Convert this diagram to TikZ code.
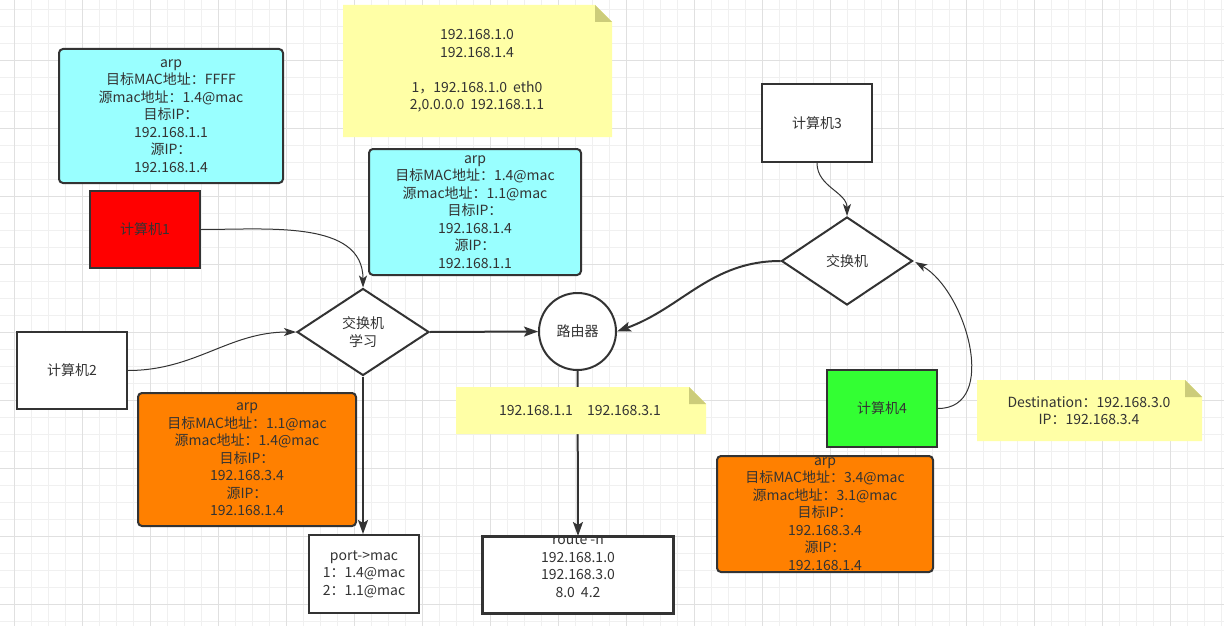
\documentclass[tikz,border=0pt]{standalone}
\usepackage{fontspec}
\setmainfont{Noto Sans CJK SC}
\usetikzlibrary{shapes.geometric,arrows.meta}
\definecolor{ink}{HTML}{333333}
\definecolor{gridminor}{HTML}{F0F0F0}
\definecolor{gridmajor}{HTML}{E0E0E0}
\definecolor{cyanf}{HTML}{99FFFF}
\definecolor{orangef}{HTML}{FF8000}
\definecolor{greenf}{HTML}{33FF33}
\definecolor{redf}{HTML}{FF0000}
\definecolor{notef}{HTML}{FFFFA6}
\definecolor{foldf}{HTML}{CCCC7A}
\begin{document}
\begin{tikzpicture}[x=1pt,y=-1pt,
  txt/.style={text=ink, font=\fontsize{14}{17.5}\selectfont, align=center, inner sep=0pt},
  box/.style={txt, draw=ink, line width=2pt, fill=white},
  rbox/.style={box, rounded corners=4pt},
  thinconn/.style={draw=ink, line width=1pt, -{Stealth[length=12pt,width=8pt,inset=3pt]}},
  thickconn/.style={draw=ink, line width=2pt, -{Stealth[length=14pt,width=10pt,inset=3pt]}},
  gmin/.style={draw=gridminor, line width=1pt},
  gmaj/.style={draw=gridmajor, line width=1pt}]
\useasboundingbox (0,0) rectangle (1224,626);
\fill[white] (0,0) rectangle (1224,626);
% grid
\foreach \i in {0,...,72} \draw[gmin] ({-2.7+17*\i},0) -- ++(0,626);
\foreach \j in {0,...,36} \draw[gmin] (0,{9.3+17*\j}) -- ++(1224,0);
\foreach \i in {0,...,18} \draw[gmaj] ({14.3+68*\i},0) -- ++(0,626);
\foreach \j in {-1,...,8} \draw[gmaj] (0,{60.3+68*\j}) -- ++(1224,0);

% boxes
\node[rbox, fill=cyanf, minimum width=224, minimum height=134] (a1) at (171,116)
  {arp\\目标MAC地址：FFFF\\源mac地址：1.4@mac\\目标IP：\\192.168.1.1\\源IP：\\192.168.1.4};
\node[rbox, fill=cyanf, minimum width=212, minimum height=126] (a2) at (475,212)
  {arp\\目标MAC地址：1.4@mac\\源mac地址：1.1@mac\\目标IP：\\192.168.1.4\\源IP：\\192.168.1.1};
\node[rbox, fill=orangef, minimum width=218, minimum height=133] (a3) at (247,459.5)
  {arp\\目标MAC地址：1.1@mac\\源mac地址：1.4@mac\\目标IP：\\192.168.3.4\\源IP：\\192.168.1.4};
\node[rbox, fill=orangef, minimum width=216, minimum height=116] (a4) at (825,514) {};
\begin{scope}
  \clip (a4.south west) rectangle (a4.north east);
  \node[txt] (a4t) at (825,514)
    {arp\\目标MAC地址：3.4@mac\\源mac地址：3.1@mac\\目标IP：\\192.168.3.4\\源IP：\\192.168.1.4};
\end{scope}

\node[box, fill=redf, minimum width=110, minimum height=77] (c1) at (145,229.5) {计算机1};
\node[box, minimum width=110, minimum height=77] (c2) at (72,370.5) {计算机2};
\node[box, minimum width=110, minimum height=78] (c3) at (817,123) {计算机3};
\node[box, fill=greenf, minimum width=110, minimum height=77] (c4) at (882,408.5) {计算机4};

\node[box, diamond, aspect=1.5, minimum width=132, minimum height=87] (sw1) at (363,332) {交换机\\学习};
\node[box, diamond, aspect=1.5, minimum width=131, minimum height=88] (sw2) at (847,261) {交换机};
\node[box, circle, minimum size=77] (r) at (577.5,331.5) {路由器};

\node[box, minimum width=110, minimum height=78] (pm) at (364,574) {port->mac\\1：1.4@mac\\2：1.1@mac};
\node[box, minimum width=190, minimum height=76] (rt) at (578,575) {};
\begin{scope}
  \clip (rt.south west) rectangle (rt.north east);
  \node[txt] (rtt) at (578,566) {route -n\\192.168.1.0\\192.168.3.0\\8.0\hspace{6pt}4.2};
\end{scope}
\draw[ink, line width=2pt] (rt.south west) rectangle (rt.north east);

% connectors
\draw[thinconn] (c1.east) to[out=0,in=90] (sw1.north);
\draw[thinconn] (c2.east) to[out=0,in=180] (sw1.west);
\draw[thickconn] (sw1.south) -- (sw1.south |- pm.north);
\draw[thickconn] (sw1.east) -- (r.west);
\draw[thickconn] (r.south) -- (rt.north);
\draw[thickconn] (sw2.west) to[out=180,in=20] (r.east);
\draw[thinconn] (c3.south) to[out=-90,in=90] (sw2.north);
\draw[thinconn, shorten >=2pt] (c4.east) to[out=0,in=-30,looseness=1.05] (sw2.east);

% notes
\fill[notef] (343,5) -- (595,5) -- (612,22) -- (612,137) -- (343,137) -- cycle;
\fill[foldf] (595,5) -- (612,22) -- (595,22) -- cycle;
\node[txt] (n1) at (477,71)
  {192.168.1.0\\192.168.1.4\\\mbox{}\\1，192.168.1.0\hspace{6pt}eth0\\2,0.0.0.0\hspace{6pt}192.168.1.1};

\fill[notef] (456,387) -- (689,387) -- (706,404) -- (706,434) -- (456,434) -- cycle;
\fill[foldf] (689,387) -- (706,404) -- (689,404) -- cycle;
\node[txt] (n2) at (580,411) {192.168.1.1\hspace{14pt}192.168.3.1};

\fill[notef] (977,380) -- (1185,380) -- (1202,397) -- (1202,441) -- (977,441) -- cycle;
\fill[foldf] (1185,380) -- (1202,397) -- (1185,397) -- cycle;
\node[txt] (n3) at (1089,410.5) {Destination：192.168.3.0\\IP：192.168.3.4};
\end{tikzpicture}
\end{document}
